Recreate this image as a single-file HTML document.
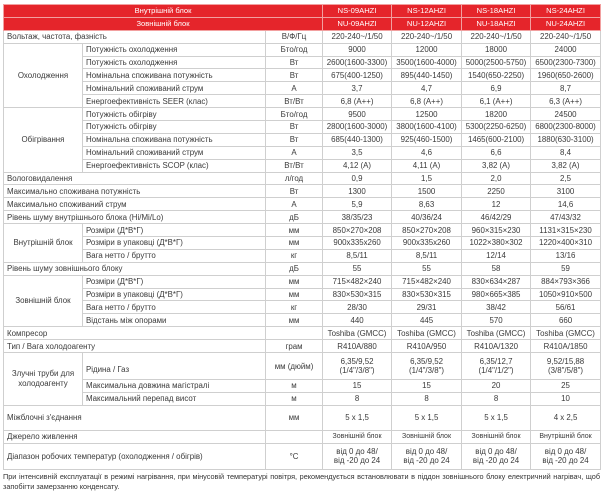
<!DOCTYPE html>
<html><head><meta charset="utf-8"><style>
html,body{margin:0;padding:0;background:#fff;width:608px;height:500px;overflow:hidden}
body{font-family:"Liberation Sans",sans-serif;color:#3a3a3a}
table{position:absolute;left:3px;top:4px;border-collapse:collapse;table-layout:fixed;width:597px;font-size:7.9px}
td{border:1px solid #cfcfcf;padding:0 1px;white-space:nowrap;overflow:hidden;line-height:9px;text-align:center}
td.l{text-align:left;padding-left:3px}
tr{height:12.9px}
tr.h td{background:#e5252b;color:#fff;border-color:#f2a0a0;height:11.5px;font-size:7.6px}
.note{position:absolute;left:3px;top:472px;width:597px;font-size:7.3px;line-height:9.5px;text-align:justify;color:#333}
</style></head><body>
<table>
<colgroup><col style="width:79px"><col style="width:183px"><col style="width:57px"><col style="width:69px"><col style="width:70px"><col style="width:69px"><col style="width:70px"></colgroup>
<tr class="h"><td colspan="3">Внутрішній блок</td><td>NS-09AHZI</td><td>NS-12AHZI</td><td>NS-18AHZI</td><td>NS-24AHZI</td></tr>
<tr class="h"><td colspan="3">Зовнішній блок</td><td>NU-09AHZI</td><td>NU-12AHZI</td><td>NU-18AHZI</td><td>NU-24AHZI</td></tr>
<tr><td class="l" colspan="2">Вольтаж, частота, фазність</td><td>В/Ф/Гц</td><td>220-240~/1/50</td><td>220-240~/1/50</td><td>220-240~/1/50</td><td>220-240~/1/50</td></tr>
<tr><td rowspan="5">Охолодження</td><td class="l">Потужність охолодження</td><td>Бто/год</td><td>9000</td><td>12000</td><td>18000</td><td>24000</td></tr>
<tr><td class="l">Потужність охолодження</td><td>Вт</td><td>2600(1600-3300)</td><td>3500(1600-4000)</td><td>5000(2500-5750)</td><td>6500(2300-7300)</td></tr>
<tr><td class="l">Номінальна споживана потужність</td><td>Вт</td><td>675(400-1250)</td><td>895(440-1450)</td><td>1540(650-2250)</td><td>1960(650-2600)</td></tr>
<tr><td class="l">Номінальний споживаний струм</td><td>А</td><td>3,7</td><td>4,7</td><td>6,9</td><td>8,7</td></tr>
<tr><td class="l">Енергоефективність SEER (клас)</td><td>Вт/Вт</td><td>6,8 (А++)</td><td>6,8 (А++)</td><td>6,1 (А++)</td><td>6,3 (А++)</td></tr>
<tr><td rowspan="5">Обігрівання</td><td class="l">Потужність обігріву</td><td>Бто/год</td><td>9500</td><td>12500</td><td>18200</td><td>24500</td></tr>
<tr><td class="l">Потужність обігріву</td><td>Вт</td><td>2800(1600-3000)</td><td>3800(1600-4100)</td><td>5300(2250-6250)</td><td>6800(2300-8000)</td></tr>
<tr><td class="l">Номінальна споживана потужність</td><td>Вт</td><td>685(440-1300)</td><td>925(460-1500)</td><td>1465(600-2100)</td><td>1880(630-3100)</td></tr>
<tr><td class="l">Номінальний споживаний струм</td><td>А</td><td>3,5</td><td>4,6</td><td>6,6</td><td>8,4</td></tr>
<tr><td class="l">Енергоефективність SCOP (клас)</td><td>Вт/Вт</td><td>4,12 (А)</td><td>4,11 (А)</td><td>3,82 (А)</td><td>3,82 (А)</td></tr>
<tr><td class="l" colspan="2">Вологовидалення</td><td>л/год</td><td>0,9</td><td>1,5</td><td>2,0</td><td>2,5</td></tr>
<tr><td class="l" colspan="2">Максимально споживана потужність</td><td>Вт</td><td>1300</td><td>1500</td><td>2250</td><td>3100</td></tr>
<tr><td class="l" colspan="2">Максимально споживаний струм</td><td>А</td><td>5,9</td><td>8,63</td><td>12</td><td>14,6</td></tr>
<tr><td class="l" colspan="2">Рівень шуму внутрішнього блока (Hi/Mi/Lo)</td><td>дБ</td><td>38/35/23</td><td>40/36/24</td><td>46/42/29</td><td>47/43/32</td></tr>
<tr><td rowspan="3">Внутрішній блок</td><td class="l">Розміри (Д*В*Г)</td><td>мм</td><td>850×270×208</td><td>850×270×208</td><td>960×315×230</td><td>1131×315×230</td></tr>
<tr><td class="l">Розміри в упаковці (Д*В*Г)</td><td>мм</td><td>900x335x260</td><td>900x335x260</td><td>1022×380×302</td><td>1220×400×310</td></tr>
<tr><td class="l">Вага нетто / брутто</td><td>кг</td><td>8,5/11</td><td>8,5/11</td><td>12/14</td><td>13/16</td></tr>
<tr><td class="l" colspan="2">Рівень шуму зовнішнього блоку</td><td>дБ</td><td>55</td><td>55</td><td>58</td><td>59</td></tr>
<tr><td rowspan="4">Зовнішній блок</td><td class="l">Розміри (Д*В*Г)</td><td>мм</td><td>715×482×240</td><td>715×482×240</td><td>830×634×287</td><td>884×793×366</td></tr>
<tr><td class="l">Розміри в упаковці (Д*В*Г)</td><td>мм</td><td>830×530×315</td><td>830×530×315</td><td>980×665×385</td><td>1050×910×500</td></tr>
<tr><td class="l">Вага нетто / брутто</td><td>кг</td><td>28/30</td><td>29/31</td><td>38/42</td><td>56/61</td></tr>
<tr><td class="l">Відстань між опорами</td><td>мм</td><td>440</td><td>445</td><td>570</td><td>660</td></tr>
<tr><td class="l" colspan="2">Компресор</td><td></td><td>Toshiba (GMCC)</td><td>Toshiba (GMCC)</td><td>Toshiba (GMCC)</td><td>Toshiba (GMCC)</td></tr>
<tr><td class="l" colspan="2">Тип / Вага холодоагенту</td><td>грам</td><td>R410A/880</td><td>R410A/950</td><td>R410A/1320</td><td>R410A/1850</td></tr>
<tr style="height:27px"><td rowspan="3" style="white-space:normal;line-height:10px">Злучні труби для холодоагенту</td><td class="l" style="padding-top:6px">Рідина / Газ</td><td>мм (дюйм)</td><td>6,35/9,52<br>(1/4"/3/8")</td><td>6,35/9,52<br>(1/4"/3/8")</td><td>6,35/12,7<br>(1/4"/1/2")</td><td>9,52/15,88<br>(3/8"/5/8")</td></tr>
<tr><td class="l">Максимальна довжина магістралі</td><td>м</td><td>15</td><td>15</td><td>20</td><td>25</td></tr>
<tr><td class="l">Максимальний перепад висот</td><td>м</td><td>8</td><td>8</td><td>8</td><td>10</td></tr>
<tr style="height:25px"><td class="l" colspan="2">Міжблочні з'єднання</td><td>мм</td><td>5 x 1,5</td><td>5 x 1,5</td><td>5 x 1,5</td><td>4 x 2,5</td></tr>
<tr><td class="l" colspan="2">Джерело живлення</td><td></td><td style="font-size:7px">Зовнішній блок</td><td style="font-size:7px">Зовнішній блок</td><td style="font-size:7px">Зовнішній блок</td><td style="font-size:7px">Внутрішній блок</td></tr>
<tr style="height:26px"><td class="l" colspan="2">Діапазон робочих температур (охолодження / обігрів)</td><td>°C</td><td>від 0 до 48/<br>від -20 до 24</td><td>від 0 до 48/<br>від -20 до 24</td><td>від 0 до 48/<br>від -20 до 24</td><td>від 0 до 48/<br>від -20 до 24</td></tr>
</table>
<div class="note">При інтенсивній експлуатації в режимі нагрівання, при мінусовій температурі повітря, рекомендується встановлювати в піддон зовнішнього блоку електричний нагрівач, щоб запобігти замерзанню конденсату.</div>
</body></html>
